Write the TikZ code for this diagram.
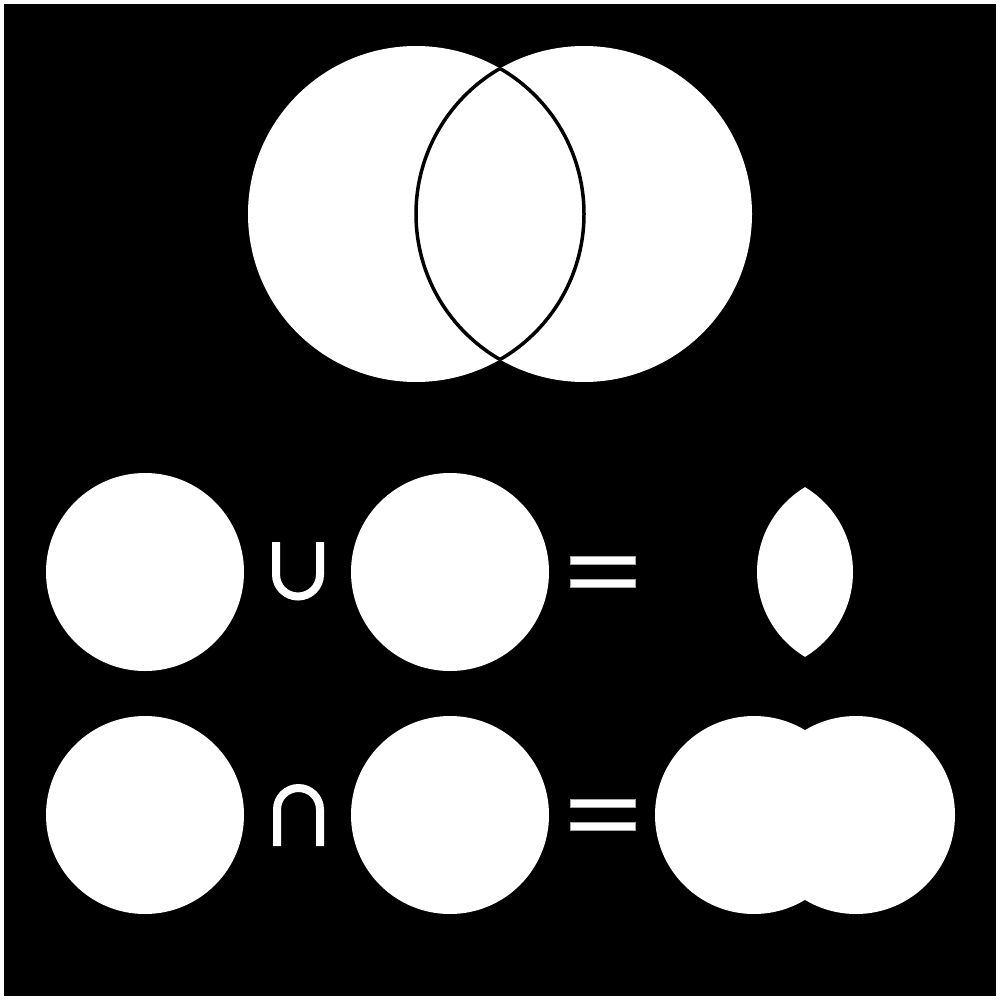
\documentclass[tikz,border=0pt]{standalone}
\begin{document}
\begin{tikzpicture}[x=1pt,y=-1pt,
  disc/.style={fill=white},
  sym/.style={draw=white,line width=8pt},
  bar/.style={fill=white,draw=gray!70,line width=0.6pt}]
\useasboundingbox (0,0) rectangle (1001,1001);
\fill[white] (0,0) rectangle (1001,1001);
\fill[black] (4,4) rectangle (996,996);
% top venn
\fill[white] (416,214) circle (168);
\fill[white] (584,214) circle (168);
\begin{scope}
\clip (584,214) circle (168);
\draw[black,line width=3.5pt] (416,214) circle (168);
\end{scope}
\begin{scope}
\clip (416,214) circle (168);
\draw[black,line width=3.5pt] (584,214) circle (168);
\end{scope}
% row 2
\fill[disc] (145,572) circle (99);
\fill[disc] (450,572) circle (99);
\draw[sym] (276,542) -- (276,574.5) arc[start angle=180,end angle=0,radius=22] -- (320,542);
\draw[bar] (570,556) rectangle (635,564);
\draw[bar] (570,579) rectangle (635,587);
\begin{scope}
\clip (754,572) circle (99);
\fill[disc] (856,572) circle (99);
\end{scope}
% row 3
\fill[disc] (145,815) circle (99);
\fill[disc] (450,815) circle (99);
\draw[sym] (277,846) -- (277,809.5) arc[start angle=180,end angle=360,radius=21.5] -- (320,846);
\draw[bar] (570,799) rectangle (635,807);
\draw[bar] (570,822) rectangle (635,830);
\fill[disc] (754,815) circle (99);
\fill[disc] (856,815) circle (99);
\end{tikzpicture}
\end{document}
